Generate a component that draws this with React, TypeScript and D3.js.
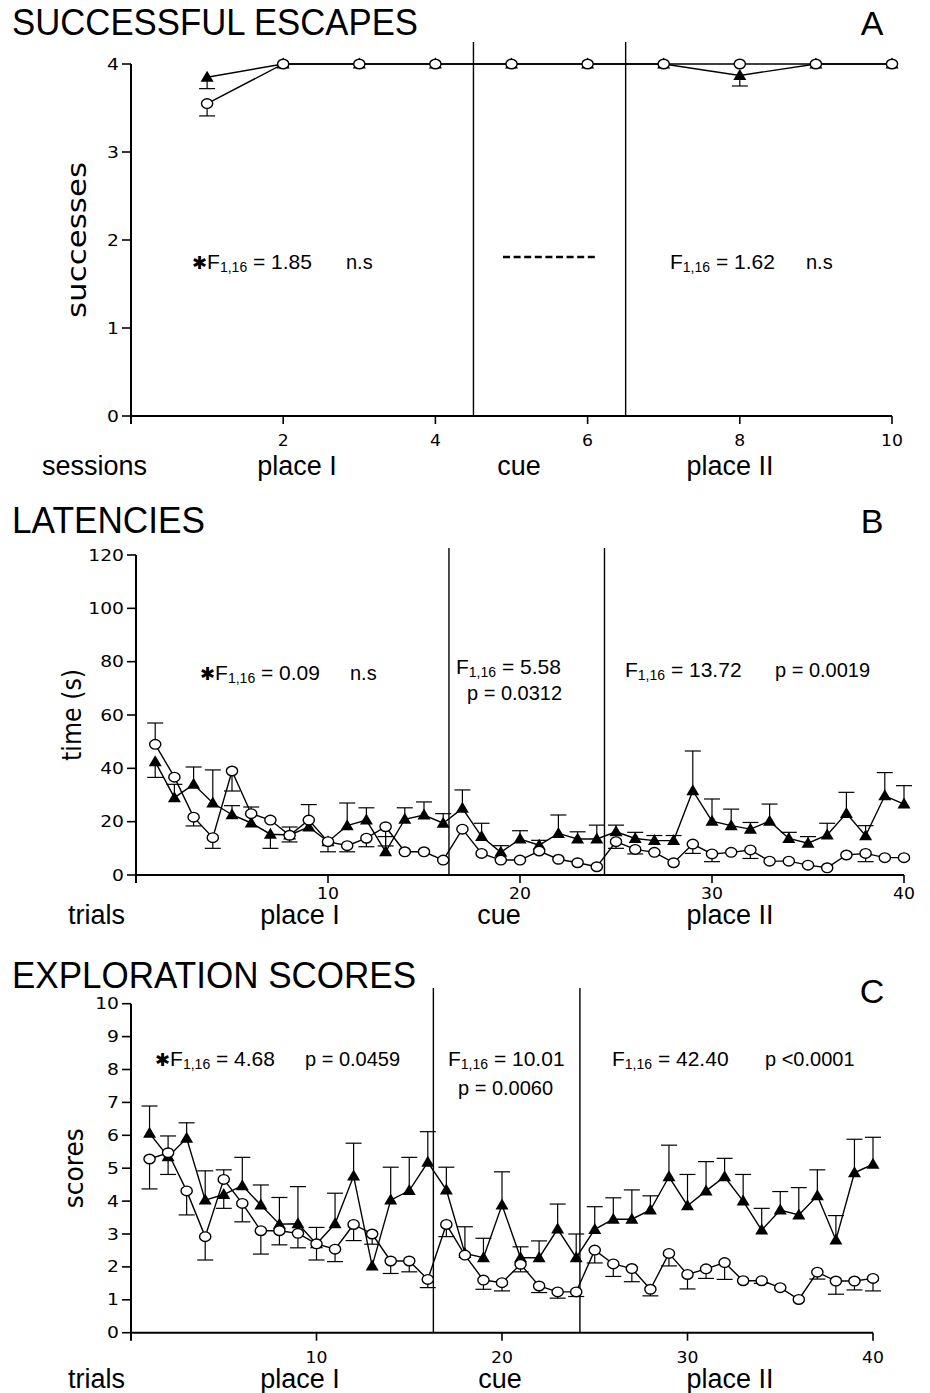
import React from "react";
import * as d3 from "d3";

// ---- data ----
const sessions = [1, 2, 3, 4, 5, 6, 7, 8, 9, 10];
const escTri = [3.85, 4, 4, 4, 4, 4, 4, 3.87, 4, 4];
const escTriErr = [3.72, null, null, null, null, null, null, 3.75, null, null];
const escCirc = [3.55, 4, 4, 4, 4, 4, 4, 4, 4, 4];
const escCircErr = [3.41, null, null, null, null, null, null, null, null, null];

const trials = [1, 2, 3, 4, 5, 6, 7, 8, 9, 10, 11, 12, 13, 14, 15, 16, 17, 18, 19, 20,
  21, 22, 23, 24, 25, 26, 27, 28, 29, 30, 31, 32, 33, 34, 35, 36, 37, 38, 39, 40];

const latTri = [42.5, 29, 34, 27, 22.6, 19.5, 15.3, 15, 18, 12.5, 18.5, 20.6, 8.7, 20.9, 22.5, 19.4, 25, 14.4, 8.5, 13.5,
  11.2, 15.6, 13.5, 13.5, 16.2, 13.7, 12.9, 12.9, 31.6, 20.2, 18.5, 17.2, 20.2, 13.7, 11.9, 15, 23.1, 14.7, 29.7, 26.6];
const latTriErr = [36.6, 34, 40.5, 39.4, 26, 25.5, 10, 18, 26.4, null, 27, 25.2, 14.4, 25.2, 27.4, 23, 31.9, 19.4, 11, 16.6,
  13, 22.5, 16.2, 18.7, 18.7, 16, 14.8, 14.8, 46.5, 28.5, 24.7, 19.7, 26.6, 16, 14.4, 19.4, 31, 18.5, 38.4, 33.5];
const latCirc = [49, 36.7, 21.7, 14, 39, 23, 20.6, 14.9, 20.6, 12.5, 11, 13.8, 18.1, 8.7, 8.7, 5.6, 17.2, 8.1, 5.6, 5.6,
  9, 5.9, 4.6, 3.1, 12.5, 9.6, 8.5, 4.6, 11.6, 7.9, 8.5, 9.4, 5.2, 5.2, 3.7, 2.7, 7.5, 8.1, 6.5, 6.5];
const latCircErr = [57, null, 18.4, 10, 31.5, null, null, 12.4, null, 8.7, 8.7, 10.6, 10.9, null, null, null, null, null, null, null,
  null, null, null, null, 10, 7.9, null, null, 8.1, 5, null, 6.2, null, null, null, null, null, 5, null, null];

const expTri = [6.06, 5.35, 5.91, 4.03, 4.2, 4.47, 3.88, 3.3, 3.31, 2.7, 3.31, 4.76, 2.03, 4.03, 4.32, 5.18, 4.34, 2.41, 2.28, 3.88,
  2.28, 2.28, 3.15, 2.28, 3.14, 3.45, 3.45, 3.73, 4.74, 3.86, 4.31, 4.74, 4.0, 3.12, 3.73, 3.58, 4.16, 2.82, 4.86, 5.12];
const expTriErr = [6.89, 4.81, 6.38, 4.92, 3.78, 5.33, 4.49, 4.11, 4.44, 3.2, 4.24, 5.76, null, 5.03, 5.33, 6.11, 5.03, 3.22, 2.87, 4.89,
  2.61, 2.79, 3.91, 3.0, 3.83, 4.1, 4.34, 4.16, 5.7, 4.81, 5.2, 5.3, 4.81, 3.78, 4.29, 4.41, 4.95, 3.56, 5.88, 5.94];
const expCirc = [5.28, 5.47, 4.31, 2.92, 4.66, 3.93, 3.1, 3.1, 3.02, 2.7, 2.54, 3.29, 3.0, 2.18, 2.18, 1.62, 3.29, 2.36, 1.6, 1.52,
  2.08, 1.42, 1.24, 1.24, 2.51, 2.09, 1.95, 1.32, 2.41, 1.77, 1.94, 2.13, 1.58, 1.58, 1.37, 1.01, 1.84, 1.57, 1.57, 1.65];
const expCircErr = [4.37, 5.98, 3.58, 2.21, 4.95, 3.37, 2.39, 2.67, 2.58, 2.21, 2.16, 2.8, 2.69, 1.8, 1.85, 1.37, 2.92, null, 1.32, 1.27,
  1.85, 1.22, 1.05, 1.1, 2.12, 1.71, 1.55, 1.12, 2.03, 1.33, 1.65, 1.62, null, 1.5, null, null, 1.63, 1.17, 1.3, 1.27];

const FONT = "'Liberation Sans', Arial, Helvetica, sans-serif";
const TICKFONT = "'DejaVu Sans', Verdana, sans-serif";

type Stat = { x: number; y: number; star?: boolean; value?: string; text?: string };

type PanelProps = {
  title: string;
  titleLen: number;
  letter: string;
  titleY: number;
  letterY: number;
  xs: number[];
  tri: number[];
  triErr: (number | null)[];
  circ: number[];
  circErr: (number | null)[];
  xDomain: [number, number];
  xRange: [number, number];
  yDomain: [number, number];
  yRange: [number, number];
  yTicks: number[];
  xTicks: number[];
  xTickLabelY: number;
  bounds: number[];
  boundTop: number;
  yLabel: string;
  yLabelX: number;
  yLabelLen: number;
  unitLabel: string;
  unitX: number;
  phaseLabels: { text: string; x: number }[];
  phaseY: number;
  stats: Stat[];
  dashed?: { x1: number; x2: number; y: number };
};

function StatText({ s }: { s: Stat }) {
  if (s.text) {
    return (
      <text x={s.x} y={s.y} fontSize={20} fontFamily={FONT}>{s.text}</text>
    );
  }
  return (
    <text x={s.x} y={s.y} fontSize={21} fontFamily={FONT}>
      {s.star && <tspan fontFamily={TICKFONT} fontSize={18}>✱</tspan>}
      <tspan>F</tspan>
      <tspan fontSize={14} dy={3}>1,16</tspan>
      <tspan dy={-3}>{` = ${s.value}`}</tspan>
    </text>
  );
}

function Panel(p: PanelProps) {
  const x = d3.scaleLinear().domain(p.xDomain).range(p.xRange);
  const y = d3.scaleLinear().domain(p.yDomain).range(p.yRange);
  const ln = d3.line<number>().x((_, i) => x(p.xs[i])).y((d) => y(d));
  const triPath = (cx: number, cy: number) =>
    `M${cx - 6.5},${cy + 4.5}L${cx},${cy - 6.5}L${cx + 6.5},${cy + 4.5}Z`;
  const x0 = p.xRange[0];
  const yBase = y(p.yDomain[0]);
  const yTop = y(p.yDomain[1]);

  const errBars = (vals: number[], errs: (number | null)[], key: string) =>
    errs.map((e, i) =>
      e == null ? null : (
        <g key={key + i} stroke="#000" strokeWidth={1.2}>
          <line x1={x(p.xs[i])} x2={x(p.xs[i])} y1={y(vals[i])} y2={y(e)} />
          <line x1={x(p.xs[i]) - 8} x2={x(p.xs[i]) + 8} y1={y(e)} y2={y(e)} />
        </g>
      )
    );

  return (
    <g>
      <text x={12} y={p.titleY} fontSize={36} fontFamily={FONT} textLength={p.titleLen}
        lengthAdjust="spacingAndGlyphs">{p.title}</text>
      <text x={872} y={p.letterY} fontSize={34} fontFamily={FONT} textAnchor="middle">{p.letter}</text>

      {/* axes */}
      <line x1={x0} x2={x0} y1={yTop} y2={yBase + 8} stroke="#000" strokeWidth={2} />
      <line x1={x0} x2={p.xRange[1]} y1={yBase} y2={yBase} stroke="#000" strokeWidth={2} />
      {p.yTicks.map((t) => (
        <g key={"yt" + t}>
          <line x1={x0 - 9} x2={x0} y1={y(t)} y2={y(t)} stroke="#000" strokeWidth={1.6} />
          <text transform={`translate(${x0 - 12},${y(t) + 5.5}) scale(1.25,1)`} fontSize={15}
            fontFamily={TICKFONT} textAnchor="end">{t}</text>
        </g>
      ))}
      {p.xTicks.map((t) => (
        <g key={"xt" + t}>
          <line x1={x(t)} x2={x(t)} y1={yBase} y2={yBase + 8} stroke="#000" strokeWidth={1.6} />
          <text transform={`translate(${x(t)},${p.xTickLabelY}) scale(1.15,1)`} fontSize={15}
            fontFamily={TICKFONT} textAnchor="middle">{t}</text>
        </g>
      ))}

      {/* phase boundaries */}
      {p.bounds.map((b) => (
        <line key={"b" + b} x1={x(b)} x2={x(b)} y1={p.boundTop} y2={yBase} stroke="#000" strokeWidth={1.4} />
      ))}

      {/* y label */}
      <text transform={`translate(${p.yLabelX},${(yTop + yBase) / 2}) rotate(-90)`} fontSize={27}
        fontFamily={TICKFONT} textAnchor="middle" textLength={p.yLabelLen} lengthAdjust="spacingAndGlyphs">
        {p.yLabel}
      </text>

      {/* bottom labels */}
      <text x={p.unitX} y={p.phaseY} fontSize={27} fontFamily={FONT}>{p.unitLabel}</text>
      {p.phaseLabels.map((l) => (
        <text key={l.text} x={l.x} y={p.phaseY} fontSize={27} fontFamily={FONT} textAnchor="middle">{l.text}</text>
      ))}

      {/* stats */}
      {p.stats.map((s, i) => <StatText key={"s" + i} s={s} />)}
      {p.dashed && (
        <line x1={p.dashed.x1} x2={p.dashed.x2} y1={p.dashed.y} y2={p.dashed.y} stroke="#000"
          strokeWidth={2.5} strokeDasharray="7,3.6" />
      )}

      {/* data */}
      <path d={ln(p.tri) || ""} fill="none" stroke="#000" strokeWidth={1.4} />
      <path d={ln(p.circ) || ""} fill="none" stroke="#000" strokeWidth={1.4} />
      {errBars(p.tri, p.triErr, "te")}
      {errBars(p.circ, p.circErr, "ce")}
      {p.tri.map((v, i) => (
        <path key={"tm" + i} d={triPath(x(p.xs[i]), y(v))} fill="#000" />
      ))}
      {p.circ.map((v, i) => (
        <ellipse key={"cm" + i} cx={x(p.xs[i])} cy={y(v)} rx={5.6} ry={4.8} fill="#fff" stroke="#000" strokeWidth={1.4} />
      ))}
    </g>
  );
}

export default function App() {
  return (
    <svg width={930} height={1393} style={{ position: "absolute", left: 0, top: 0, background: "#fff" }}>
      <rect width={930} height={1393} fill="#fff" />
      <Panel
        title="SUCCESSFUL ESCAPES" titleLen={406} letter="A" titleY={35} letterY={35}
        xs={sessions} tri={escTri} triErr={escTriErr} circ={escCirc} circErr={escCircErr}
        xDomain={[0, 10]} xRange={[131, 892]} yDomain={[0, 4]} yRange={[416, 64]}
        yTicks={[0, 1, 2, 3, 4]} xTicks={[2, 4, 6, 8, 10]} xTickLabelY={446}
        bounds={[4.5, 6.5]} boundTop={42}
        yLabel="successes" yLabelX={86} yLabelLen={156}
        unitLabel="sessions" unitX={42} phaseY={475}
        phaseLabels={[{ text: "place I", x: 297 }, { text: "cue", x: 519 }, { text: "place II", x: 730 }]}
        stats={[
          { x: 192, y: 269, star: true, value: "1.85" },
          { x: 346, y: 269, text: "n.s" },
          { x: 670, y: 269, value: "1.62" },
          { x: 806, y: 269, text: "n.s" },
        ]}
        dashed={{ x1: 503, x2: 598, y: 257 }}
      />
      <Panel
        title="LATENCIES" titleLen={193} letter="B" titleY={533} letterY={533}
        xs={trials} tri={latTri} triErr={latTriErr} circ={latCirc} circErr={latCircErr}
        xDomain={[0, 40]} xRange={[136, 904]} yDomain={[0, 120]} yRange={[875, 555]}
        yTicks={[0, 20, 40, 60, 80, 100, 120]} xTicks={[10, 20, 30, 40]} xTickLabelY={899}
        bounds={[16.3, 24.4]} boundTop={548}
        yLabel="time (s)" yLabelX={81} yLabelLen={92}
        unitLabel="trials" unitX={68} phaseY={924}
        phaseLabels={[{ text: "place I", x: 300 }, { text: "cue", x: 499 }, { text: "place II", x: 730 }]}
        stats={[
          { x: 200, y: 680, star: true, value: "0.09" },
          { x: 350, y: 680, text: "n.s" },
          { x: 456, y: 674, value: "5.58" },
          { x: 467, y: 700, text: "p = 0.0312" },
          { x: 625, y: 677, value: "13.72" },
          { x: 775, y: 677, text: "p = 0.0019" },
        ]}
      />
      <Panel
        title="EXPLORATION SCORES" titleLen={404} letter="C" titleY={988} letterY={1003}
        xs={trials} tri={expTri} triErr={expTriErr} circ={expCirc} circErr={expCircErr}
        xDomain={[0, 40]} xRange={[131, 873]} yDomain={[0, 10]} yRange={[1332.7, 1003.7]}
        yTicks={[0, 1, 2, 3, 4, 5, 6, 7, 8, 9, 10]} xTicks={[10, 20, 30, 40]} xTickLabelY={1363}
        bounds={[16.3, 24.2]} boundTop={988}
        yLabel="scores" yLabelX={83} yLabelLen={80}
        unitLabel="trials" unitX={68} phaseY={1388}
        phaseLabels={[{ text: "place I", x: 300 }, { text: "cue", x: 500 }, { text: "place II", x: 730 }]}
        stats={[
          { x: 155, y: 1066, star: true, value: "4.68" },
          { x: 305, y: 1066, text: "p = 0.0459" },
          { x: 448, y: 1066, value: "10.01" },
          { x: 458, y: 1095, text: "p = 0.0060" },
          { x: 612, y: 1066, value: "42.40" },
          { x: 765, y: 1066, text: "p <0.0001" },
        ]}
      />
    </svg>
  );
}
